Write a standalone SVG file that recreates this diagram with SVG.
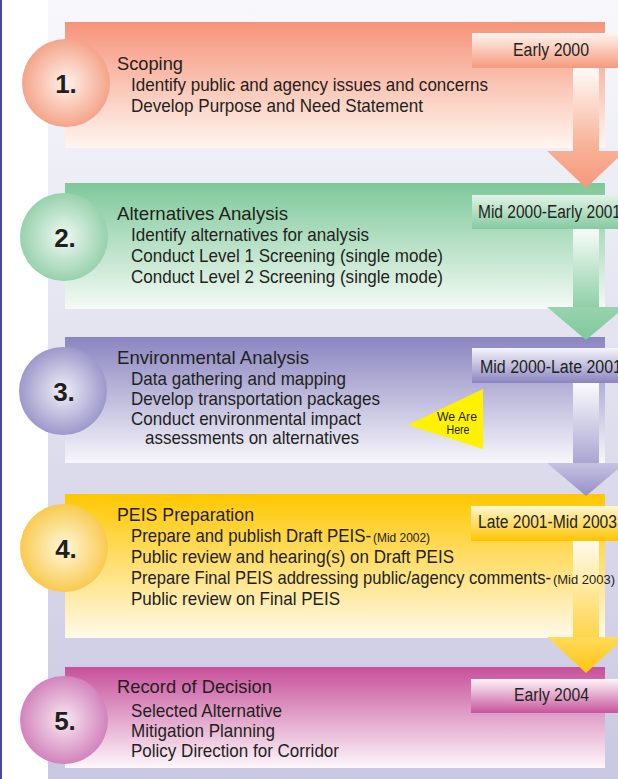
<svg xmlns="http://www.w3.org/2000/svg" width="618" height="779" viewBox="0 0 618 779">
<defs>
<linearGradient id="bg" x1="0" y1="0" x2="0" y2="1"><stop offset="0" stop-color="#f8f8fc"/><stop offset="1" stop-color="#c9c8e2"/></linearGradient>
<linearGradient id="b1" x1="0" y1="0" x2="0" y2="1"><stop offset="0" stop-color="#f6937a"/><stop offset="1" stop-color="#fff6f0"/></linearGradient>
<linearGradient id="b2" x1="0" y1="0" x2="0" y2="1"><stop offset="0" stop-color="#7ec89a"/><stop offset="1" stop-color="#f4faf5"/></linearGradient>
<linearGradient id="b3" x1="0" y1="0" x2="0" y2="1"><stop offset="0" stop-color="#8a85c0"/><stop offset="1" stop-color="#f7f6fb"/></linearGradient>
<linearGradient id="b4" x1="0" y1="0" x2="0" y2="1"><stop offset="0" stop-color="#ffc700"/><stop offset="1" stop-color="#fff9ea"/></linearGradient>
<linearGradient id="b5" x1="0" y1="0" x2="0" y2="1"><stop offset="0" stop-color="#c7509a"/><stop offset="1" stop-color="#fdf7fb"/></linearGradient>
<linearGradient id="t1" x1="0" y1="0" x2="0" y2="1"><stop offset="0" stop-color="#fff4ef"/><stop offset="1" stop-color="#f59a7d"/></linearGradient>
<linearGradient id="t2" x1="0" y1="0" x2="0" y2="1"><stop offset="0" stop-color="#e2f3e7"/><stop offset="1" stop-color="#84caa0"/></linearGradient>
<linearGradient id="t3" x1="0" y1="0" x2="0" y2="1"><stop offset="0" stop-color="#f6f5fb"/><stop offset="1" stop-color="#8a85c0"/></linearGradient>
<linearGradient id="t4" x1="0" y1="0" x2="0" y2="1"><stop offset="0" stop-color="#fff7d2"/><stop offset="1" stop-color="#ffc400"/></linearGradient>
<linearGradient id="t5" x1="0" y1="0" x2="0" y2="1"><stop offset="0" stop-color="#fdf5f9"/><stop offset="1" stop-color="#c8559c"/></linearGradient>
<linearGradient id="s1" x1="0" y1="0" x2="0" y2="1"><stop offset="0" stop-color="#fffaf7"/><stop offset="1" stop-color="#f7ad92"/></linearGradient>
<linearGradient id="s2" x1="0" y1="0" x2="0" y2="1"><stop offset="0" stop-color="#f7fcf8"/><stop offset="1" stop-color="#8fcfa8"/></linearGradient>
<linearGradient id="s3" x1="0" y1="0" x2="0" y2="1"><stop offset="0" stop-color="#fafafd"/><stop offset="1" stop-color="#aaa6d2"/></linearGradient>
<linearGradient id="s4" x1="0" y1="0" x2="0" y2="1"><stop offset="0" stop-color="#fffbec"/><stop offset="1" stop-color="#ffd54a"/></linearGradient>
<linearGradient id="a1" x1="0" y1="0" x2="0" y2="1"><stop offset="0" stop-color="#f8af95"/><stop offset="1" stop-color="#f5987b"/></linearGradient>
<linearGradient id="a2" x1="0" y1="0" x2="0" y2="1"><stop offset="0" stop-color="#98d3ae"/><stop offset="1" stop-color="#7ec89a"/></linearGradient>
<linearGradient id="a3" x1="0" y1="0" x2="0" y2="1"><stop offset="0" stop-color="#c6c3e1"/><stop offset="1" stop-color="#958fc8"/></linearGradient>
<linearGradient id="a4" x1="0" y1="0" x2="0" y2="1"><stop offset="0" stop-color="#ffdb5a"/><stop offset="1" stop-color="#ffc50f"/></linearGradient>
<radialGradient id="c1"><stop offset="0" stop-color="#fff2ec"/><stop offset="1" stop-color="#f4a489"/></radialGradient>
<radialGradient id="c2"><stop offset="0" stop-color="#f0f9f3"/><stop offset="1" stop-color="#97d1ac"/></radialGradient>
<radialGradient id="c3"><stop offset="0" stop-color="#f0eff8"/><stop offset="1" stop-color="#9c98cb"/></radialGradient>
<radialGradient id="c4"><stop offset="0" stop-color="#fff8dc"/><stop offset="1" stop-color="#f9ca4f"/></radialGradient>
<radialGradient id="c5"><stop offset="0" stop-color="#f9e8f2"/><stop offset="1" stop-color="#d283bc"/></radialGradient>
</defs>
<style>
text{font-family:"Liberation Sans",Arial,sans-serif;fill:#231f20}
.t{font-size:19px}
.s{font-size:12px}
.d{font-size:18px}
.n{font-size:26px;font-weight:bold;text-anchor:middle}
.w{font-size:13px;text-anchor:middle}
</style>
<rect x="48" y="0" width="570" height="779" fill="url(#bg)"/>
<rect x="0" y="0" width="2" height="779" fill="#4a4a9c"/>

<g id="step1">
<rect x="65" y="22" width="540" height="126" fill="url(#b1)"/>
<ellipse cx="66" cy="83" rx="44" ry="44" fill="url(#c1)"/>
<text class="n" x="66" y="93">1.</text>
<text class="t" x="117" y="70" textLength="66" lengthAdjust="spacingAndGlyphs">Scoping</text>
<text class="t" x="131" y="91" textLength="357" lengthAdjust="spacingAndGlyphs">Identify public and agency issues and concerns</text>
<text class="t" x="131" y="112" textLength="292" lengthAdjust="spacingAndGlyphs">Develop Purpose and Need Statement</text>
</g>

<g id="step2">
<rect x="65" y="183" width="540" height="126" fill="url(#b2)"/>
<ellipse cx="64" cy="237" rx="44" ry="44" fill="url(#c2)"/>
<text class="n" x="65" y="247">2.</text>
<text class="t" x="117" y="220" textLength="171" lengthAdjust="spacingAndGlyphs">Alternatives Analysis</text>
<text class="t" x="131" y="241" textLength="238" lengthAdjust="spacingAndGlyphs">Identify alternatives for analysis</text>
<text class="t" x="131" y="262" textLength="312" lengthAdjust="spacingAndGlyphs">Conduct Level 1 Screening (single mode)</text>
<text class="t" x="131" y="283" textLength="312" lengthAdjust="spacingAndGlyphs">Conduct Level 2 Screening (single mode)</text>
</g>

<g id="step3">
<rect x="65" y="337" width="540" height="126" fill="url(#b3)"/>
<ellipse cx="63" cy="391" rx="44" ry="44" fill="url(#c3)"/>
<text class="n" x="64" y="401">3.</text>
<text class="t" x="117" y="364" textLength="192" lengthAdjust="spacingAndGlyphs">Environmental Analysis</text>
<text class="t" x="131" y="385" textLength="215" lengthAdjust="spacingAndGlyphs">Data gathering and mapping</text>
<text class="t" x="131" y="405" textLength="249" lengthAdjust="spacingAndGlyphs">Develop transportation packages</text>
<text class="t" x="131" y="425" textLength="230" lengthAdjust="spacingAndGlyphs">Conduct environmental impact</text>
<text class="t" x="145" y="444" textLength="214" lengthAdjust="spacingAndGlyphs">assessments on alternatives</text>
</g>

<g id="step4">
<rect x="65" y="494" width="540" height="144" fill="url(#b4)"/>
<ellipse cx="64" cy="548" rx="44" ry="44" fill="url(#c4)"/>
<text class="n" x="66" y="558">4.</text>
</g>

<g id="step5">
<rect x="65" y="667" width="540" height="101" fill="url(#b5)"/>
<ellipse cx="64" cy="720" rx="44" ry="44" fill="url(#c5)"/>
<text class="n" x="65" y="730">5.</text>
<text class="t" x="117" y="693" textLength="155" lengthAdjust="spacingAndGlyphs">Record of Decision</text>
<text class="t" x="131" y="717" textLength="151" lengthAdjust="spacingAndGlyphs">Selected Alternative</text>
<text class="t" x="131" y="737" textLength="144" lengthAdjust="spacingAndGlyphs">Mitigation Planning</text>
<text class="t" x="131" y="757" textLength="208" lengthAdjust="spacingAndGlyphs">Policy Direction for Corridor</text>
</g>

<g id="connectors">
<rect x="573" y="68" width="26" height="83" fill="url(#s1)"/>
<polygon points="547,151 625,151 586,188" fill="url(#a1)"/>
<rect x="573" y="229" width="26" height="78" fill="url(#s2)"/>
<polygon points="547,307 625,307 586,340" fill="url(#a2)"/>
<rect x="573" y="383" width="26" height="80" fill="url(#s3)"/>
<polygon points="547,463 625,463 586,496" fill="url(#a3)"/>
<rect x="573" y="541" width="26" height="96" fill="url(#s4)"/>
<polygon points="547,637 625,637 586,673" fill="url(#a4)"/>
</g>

<g id="step4-text">
<text class="t" x="117" y="521" textLength="137" lengthAdjust="spacingAndGlyphs">PEIS Preparation</text>
<text class="t" x="131" y="542" textLength="240" lengthAdjust="spacingAndGlyphs">Prepare and publish Draft PEIS-</text>
<text class="s" x="373" y="542" textLength="57" lengthAdjust="spacingAndGlyphs">(Mid 2002)</text>
<text class="t" x="131" y="563" textLength="323" lengthAdjust="spacingAndGlyphs">Public review and hearing(s) on Draft PEIS</text>
<text class="t" x="131" y="584" textLength="420" lengthAdjust="spacingAndGlyphs">Prepare Final PEIS addressing public/agency comments-</text>
<text class="s" x="553" y="584" textLength="62" lengthAdjust="spacingAndGlyphs">(Mid 2003)</text>
<text class="t" x="131" y="605" textLength="209" lengthAdjust="spacingAndGlyphs">Public review on Final PEIS</text>
</g>

<g id="date1">
<rect x="472" y="33" width="146" height="35" fill="url(#t1)"/>
<text class="d" x="513" y="56" textLength="76" lengthAdjust="spacingAndGlyphs">Early 2000</text>
</g>
<g id="date2">
<rect x="472" y="195" width="146" height="34" fill="url(#t2)"/>
<text class="d" x="478" y="218" textLength="143" lengthAdjust="spacingAndGlyphs">Mid 2000-Early 2001</text>
</g>
<g id="date3">
<rect x="472" y="348" width="146" height="35" fill="url(#t3)"/>
<text class="d" x="480" y="373" textLength="142" lengthAdjust="spacingAndGlyphs">Mid 2000-Late 2001</text>
</g>
<g id="date4">
<rect x="471" y="506" width="147" height="35" fill="url(#t4)"/>
<text class="d" x="478" y="528" textLength="139" lengthAdjust="spacingAndGlyphs">Late 2001-Mid 2003</text>
</g>
<g id="date5">
<rect x="471" y="679" width="147" height="34" fill="url(#t5)"/>
<text class="d" x="514" y="701" textLength="75" lengthAdjust="spacingAndGlyphs">Early 2004</text>
</g>

<g id="we-are-here">
<polygon points="408,425 483,389 483,449" fill="#fff200"/>
<text class="w" x="457" y="421" textLength="40" lengthAdjust="spacingAndGlyphs">We Are</text>
<text class="w" x="458" y="434" textLength="23" lengthAdjust="spacingAndGlyphs">Here</text>
</g>
</svg>
